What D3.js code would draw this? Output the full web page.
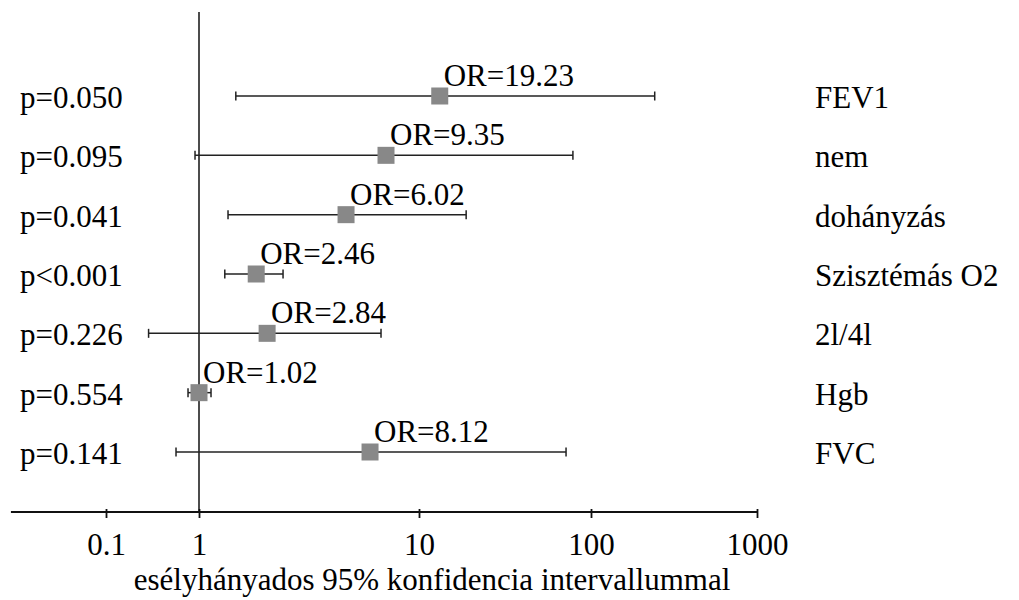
<!DOCTYPE html>
<html lang="hu">
<head>
<meta charset="UTF-8" />
<script src="https://d3js.org/d3.v7.min.js"></script>
<title>Forest plot</title>
<style>
  body { margin: 0; background: #fff; }
  svg text { font-family: "Liberation Serif", "Times New Roman", serif; fill: #000; }
  .ci { stroke: #222; stroke-width: 1.5; fill: none; }
  .box { fill: #888; }
  .ref { stroke: #111; stroke-width: 1.5; }
  .axis line { stroke: #111; stroke-width: 1.8; }
</style>
</head>
<body>
<script type="text/javascript">
// data (positions against the drawn axis)
var factors = ["FEV1", "nem", "dohányzás", "Szisztémás O2", "2l/4l", "Hgb", "FVC"];
var pLabels = ["p=0.050", "p=0.095", "p=0.041", "p<0.001", "p=0.226", "p=0.554", "p=0.141"];
var orLabels = ["OR=19.23", "OR=9.35", "OR=6.02", "OR=2.46", "OR=2.84", "OR=1.02", "OR=8.12"];
var points = [13.2, 7.08, 4.66, 1.82, 2.04, 1.0, 5.99];
var lower = [1.47, 0.906, 1.355, 1.31, 0.287, 0.762, 0.566];
var upper = [242, 78.5, 18.8, 2.41, 6.72, 1.134, 71.6];
var tickValues = [0.1, 1, 10, 100, 1000];
var tickLabels = ["0.1", "1", "10", "100", "1000"];
var axisTitle = "esélyhányados 95% konfidencia intervallummal";

var width = 1019, height = 600;
var axisY = 512;
var fs = 31;

var svg = d3.select("body").append("svg")
  .attr("width", width).attr("height", height);

// the axis in the original is not evenly spaced, so a piecewise log scale
var x = d3.scaleLog().domain(tickValues).range([106, 199, 419, 591, 757]);
var y = d3.scalePoint().domain(factors).range([96, 452]);

// axis
var axis = d3.axisBottom(x).tickValues(tickValues)
  .tickFormat(function(d, i){ return tickLabels[i]; })
  .tickSizeOuter(0);
var g = svg.append("g").attr("class", "axis")
  .attr("transform", "translate(0," + axisY + ")").call(axis);
g.select(".domain").remove();
g.append("line").attr("x1", x(0.0095)).attr("x2", x(1000)).attr("y1", 0).attr("y2", 0);
g.selectAll(".tick line").attr("y1", -3).attr("y2", 6);
g.selectAll(".tick text").attr("y", 43).attr("dy", 0)
  .style("font-size", fs + "px").style("font-family", "Liberation Serif");

svg.append("text").attr("x", 432).attr("y", 590)
  .attr("text-anchor", "middle").style("font-size", fs + "px")
  .text(axisTitle);

// reference line at OR = 1
svg.append("line").attr("class", "ref")
  .attr("x1", x(1)).attr("x2", x(1)).attr("y1", 12).attr("y2", axisY);

var rows = svg.selectAll(".row").data(factors).enter().append("g").attr("class", "row");

rows.append("line").attr("class", "ci")
  .attr("x1", function(d, i){ return x(lower[i]); })
  .attr("x2", function(d, i){ return x(upper[i]); })
  .attr("y1", function(d){ return y(d); }).attr("y2", function(d){ return y(d); });
rows.append("line").attr("class", "ci")
  .attr("x1", function(d, i){ return x(lower[i]); })
  .attr("x2", function(d, i){ return x(lower[i]); })
  .attr("y1", function(d){ return y(d) - 4.5; }).attr("y2", function(d){ return y(d) + 4.5; });
rows.append("line").attr("class", "ci")
  .attr("x1", function(d, i){ return x(upper[i]); })
  .attr("x2", function(d, i){ return x(upper[i]); })
  .attr("y1", function(d){ return y(d) - 4.5; }).attr("y2", function(d){ return y(d) + 4.5; });

var box = 17;
rows.append("rect").attr("class", "box")
  .attr("x", function(d, i){ return x(points[i]) - box / 2; })
  .attr("y", function(d){ return y(d) - box / 2; })
  .attr("width", box).attr("height", box);

rows.append("text")
  .attr("x", function(d, i){ return x(points[i]) + 4; })
  .attr("y", function(d){ return y(d) - 10; })
  .style("font-size", fs + "px")
  .text(function(d, i){ return orLabels[i]; });

rows.append("text")
  .attr("x", 20).attr("y", function(d){ return y(d) + 12; })
  .style("font-size", fs + "px")
  .text(function(d, i){ return pLabels[i]; });

rows.append("text")
  .attr("x", 815).attr("y", function(d){ return y(d) + 12; })
  .style("font-size", fs + "px")
  .text(function(d){ return d; });
</script>
</body>
</html>
